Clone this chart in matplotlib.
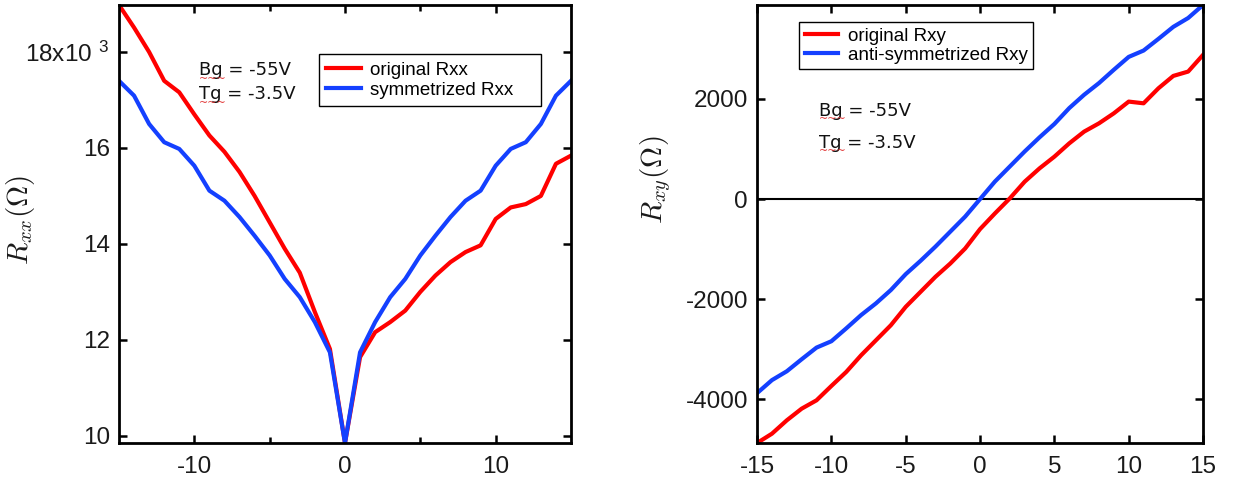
import numpy as np
import matplotlib
matplotlib.use('Agg')
from matplotlib import pyplot as plt

plt.rcParams['font.family'] = ['Liberation Sans', 'DejaVu Sans']
plt.rcParams['mathtext.fontset'] = 'cm'
plt.rcParams['axes.unicode_minus'] = False

# magnetic field (T)
field = [-15, -14, -13, -12, -11, -10, -9, -8, -7, -6, -5, -4, -3, -2, -1, 0,
         1, 2, 3, 4, 5, 6, 7, 8, 9, 10, 11, 12, 13, 14, 15]

# Rxx (ohm)
rxx_orig = [18980, 18510, 18000, 17400, 17160, 16700, 16260, 15920, 15500, 15000,
            14450, 13900, 13400, 12580, 11810, 9850,
            11640, 12160, 12370, 12610, 13000, 13340, 13620, 13830, 13970, 14520,
            14760, 14830, 15000, 15670, 15840]
rxx_sym = [17400, 17090, 16500, 16120, 15980, 15630, 15110, 14900, 14560, 14170,
           13760, 13270, 12890, 12370, 11740, 9850,
           11740, 12370, 12890, 13270, 13760, 14170, 14560, 14900, 15110, 15630,
           15980, 16120, 16500, 17090, 17400]

# Rxy (ohm)
rxy_orig = [-4873, -4687, -4420, -4187, -4020, -3733, -3453, -3120, -2820, -2520,
            -2153, -1853, -1553, -1287, -987, -600,
            -287, 13, 347, 613, 847, 1113, 1347, 1513, 1713, 1947,
            1913, 2213, 2460, 2547, 2880]
rxy_anti = [-3877, -3617, -3440, -3200, -2967, -2840, -2583, -2317, -2083, -1817,
            -1500, -1233, -950, -650, -350, 0,
            350, 650, 950, 1233, 1500, 1817, 2083, 2317, 2583, 2840,
            2967, 3200, 3440, 3617, 3877]

red = '#ff0000'
blue = '#1440ff'
tick_fs = 17.5

fig = plt.figure(figsize=(12.33, 4.84), dpi=100)


def style_axes(ax):
    for s in ax.spines.values():
        s.set_linewidth(2.0)
    ax.tick_params(which='both', direction='in', top=True, right=True,
                   width=1.8, labelsize=tick_fs, labelcolor='#1a1a1a')
    ax.tick_params(which='major', length=6)
    ax.tick_params(which='minor', length=4)
    ax.tick_params(axis='y', pad=6.5)
    ax.tick_params(axis='x', pad=9)


def gate_text(ax, x, y, dy):
    ax.text(x, y, 'Bg = -55V', transform=ax.transAxes, fontsize=13,
            family='DejaVu Sans', color='#111111', va='baseline')
    ax.text(x, y - dy, 'Tg = -3.5V', transform=ax.transAxes, fontsize=13,
            family='DejaVu Sans', color='#111111', va='baseline')
    # spell-check squiggles
    for yy in (y, y - dy):
        ax.annotate('~~~', xy=(x, yy), xycoords='axes fraction',
                    xytext=(0, 1), textcoords='offset points',
                    fontsize=8, color='#e03030', family='DejaVu Sans', va='top')


# ---- left: Rxx ----
ax1 = fig.add_axes([0.0965, 0.0847, 0.3666, 0.905])
ax1.plot(field, rxx_orig, color=red, lw=3, label='original Rxx')
ax1.plot(field, rxx_sym, color=blue, lw=3, label='symmetrized Rxx')
ax1.set_xlim(-15, 15)
ax1.set_ylim(min(rxx_orig + rxx_sym), max(rxx_orig + rxx_sym))
ax1.set_xticks([-10, 0, 10])
ax1.set_xticks([-5, 5], minor=True)
ax1.set_yticks([10000, 12000, 14000, 16000, 18000])
ax1.set_yticklabels(['10', '12', '14', '16', '18x10 $^{\\mathregular{3}}$'])
style_axes(ax1)
ax1.set_ylabel(r'$R_{xx}(\Omega)$', fontsize=21, color='#1a1a1a')
ax1.yaxis.set_label_coords(-0.181, 0.51)
ax1.legend(loc='upper left', bbox_to_anchor=(0.4415, 0, 0.492, 0.888),
           mode='expand', fontsize=13.5, frameon=True, fancybox=False,
           edgecolor='black', framealpha=1, borderpad=0.4, labelspacing=0.15,
           handlelength=1.85, handletextpad=0.5, borderaxespad=0)
ax1.get_legend().get_frame().set_linewidth(1.0)
gate_text(ax1, 0.177, 0.840, 0.055)

# ---- right: Rxy ----
ax2 = fig.add_axes([0.614, 0.0847, 0.3617, 0.905])
ax2.axhline(0, color='black', lw=1.5, zorder=1)
ax2.plot(field, rxy_orig, color=red, lw=3, label='original Rxy')
ax2.plot(field, rxy_anti, color=blue, lw=3, label='anti-symmetrized Rxy')
ax2.set_xlim(-15, 15)
ax2.set_ylim(min(rxy_orig + rxy_anti), max(rxy_orig + rxy_anti))
ax2.set_xticks([-15, -10, -5, 0, 5, 10, 15])
ax2.set_yticks([-4000, -2000, 0, 2000])
style_axes(ax2)
ax2.set_ylabel(r'$R_{xy}(\Omega)$', fontsize=21, color='#1a1a1a')
ax2.yaxis.set_label_coords(-0.188, 0.6)
ax2.legend(loc='upper left', bbox_to_anchor=(0.094, 0.961),
           fontsize=13.5, frameon=True, fancybox=False,
           edgecolor='black', framealpha=1, borderpad=0.3, labelspacing=0.1,
           handlelength=1.8, handletextpad=0.5, borderaxespad=0)
ax2.get_legend().get_frame().set_linewidth(1.0)
gate_text(ax2, 0.139, 0.747, 0.073)

fig.savefig('out.png', dpi=100)
